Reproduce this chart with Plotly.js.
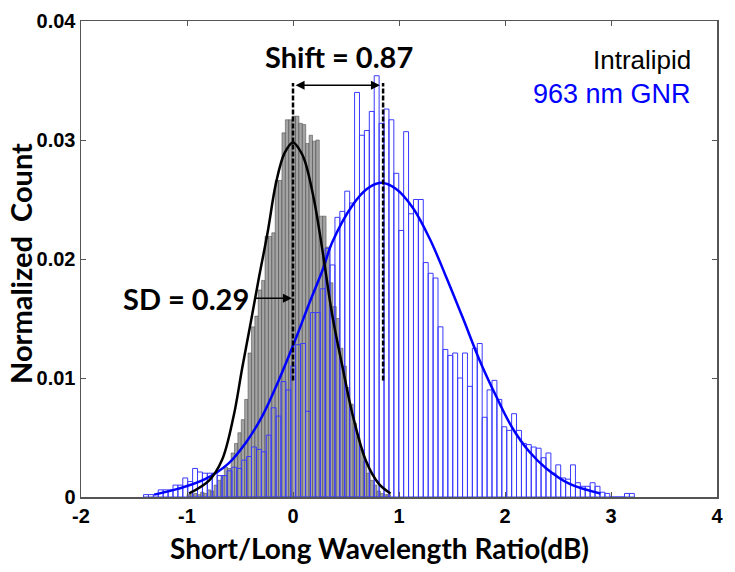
<!DOCTYPE html>
<html>
<head>
<meta charset="utf-8">
<script src="https://cdn.plot.ly/plotly-3.0.1.min.js"></script>
<style>html,body{margin:0;padding:0;background:#fff;}#chart{width:735px;height:572px;}</style>
</head>
<body>
<div id="chart"></div>
<script>
// ---- Data ----
// GNR histogram (100 bins)
const gnrBinStart = -1.41;
const gnrBinWidth = 0.0463;
const gnrCounts = [
 0.0002,0.0002,0.0002,0.0006,0.0006,0.0006,0.0010,0.0010,0.0016,0.0013,
 0.0024,0.0021,0.0020,0.0020,0.0020,0.0018,0.0018,0.0022,0.0025,0.0024,
 0.0031,0.0034,0.0042,0.0040,0.0038,0.0052,0.0075,0.0068,0.0097,0.0090,
 0.0110,0.0128,0.0129,0.0072,0.0155,0.0155,0.0175,0.0209,0.0195,0.0235,
 0.0240,0.0257,0.0247,0.0340,0.0304,0.0308,0.0324,0.0354,0.0314,0.0326,
 0.0317,0.0272,0.0224,0.0307,0.0238,0.0250,0.0250,0.0197,0.0188,0.0184,
 0.0143,0.0124,0.0119,0.0121,0.0100,0.0121,0.0093,0.0125,0.0129,0.0067,
 0.0090,0.0098,0.0082,0.0059,0.0056,0.0070,0.0056,0.0045,0.0044,0.0042,
 0.0041,0.0033,0.0037,0.0020,0.0027,0.0016,0.0015,0.0027,0.0012,0.0009,
 0.0009,0.0012,0.0009,0.0004,0.0003,0,0,0,0.0003,0.0003
];
// Intralipid histogram (60 bins)
const lipidBinStart = -1.0;
const lipidBinWidth = 0.032;
const lipidCounts = [
 0.0002,0.0002,0.0003,0.0002,0.0004,0.0003,0.0006,0.0005,0.0010,0.0014,
 0.0018,0.0025,0.0024,0.0037,0.0045,0.0054,0.0065,0.0082,0.0121,0.0143,
 0.0152,0.0174,0.0182,0.0219,0.0219,0.0222,0.0266,0.0266,0.0306,0.0317,
 0.0317,0.0320,0.0320,0.0314,0.0313,0.0297,0.0304,0.0299,0.0300,0.0236,
 0.0236,0.0210,0.0180,0.0160,0.0150,0.0125,0.0110,0.0092,0.0078,0.0062,
 0.0050,0.0040,0.0030,0.0020,0.0014,0.0010,0.0005,0.0003,0.0002,0.0002
];
// Fitted curves
const gnrFitX = [-1.31,-1.08,-0.83,-0.61,-0.45,-0.29,-0.13,0.03,0.15,0.28,0.37,0.56,0.70,0.83,0.97,1.13,1.29,1.44,1.60,1.76,1.92,2.07,2.23,2.39,2.61,2.90];
const gnrFitY = [0.0002,0.0007,0.0015,0.0028,0.0045,0.0068,0.0099,0.0134,0.0162,0.0191,0.0214,0.0245,0.0259,0.0264,0.0259,0.0243,0.0217,0.0186,0.0151,0.0115,0.0084,0.0058,0.0038,0.0024,0.0011,0.0003];
const lipidFitX = [-0.98,-0.79,-0.67,-0.56,-0.48,-0.40,-0.32,-0.24,-0.16,-0.08,0,0.08,0.12,0.20,0.28,0.37,0.47,0.56,0.69,0.81,0.92];
const lipidFitY = [0.0003,0.0014,0.0031,0.0068,0.0108,0.0146,0.0185,0.0222,0.0264,0.0289,0.0298,0.0289,0.0280,0.0249,0.0206,0.0153,0.0108,0.0070,0.0030,0.0011,0.0003];
// Means (dashed markers) and annotation values
const meanX = [0, 0.85];
const meanLineY = [0.0098, 0.0348];
const shiftArrowY = 0.0346;
const sdArrowY = 0.0167;
const sdArrowStartX = -0.37;
const labels = {shift: 'Shift = 0.87', sd: 'SD = 0.29', lipid: 'Intralipid', gnr: '963 nm GNR',
  xTitle: 'Short/Long Wavelength Ratio(dB)', yTitle: 'Normalized  Count'};
const xTickVals = [-2,-1,0,1,2,3,4];
const xTickText = ['-2','-1','0','1','2','3','4'];
const yTickVals = [0,0.01,0.02,0.03,0.04];
const yTickText = ['0','0.01','0.02','0.03','0.04'];

// ---- Build traces ----
const centers = (start, w, n) => Array.from({length: n}, (_, i) => start + w * (i + 0.5));
const gnrX = centers(gnrBinStart, gnrBinWidth, gnrCounts.length);
const lipidX = centers(lipidBinStart, lipidBinWidth, lipidCounts.length);

const traces = [
  {type: 'bar', x: lipidX, y: lipidCounts, width: lipidBinWidth,
   marker: {color: '#a4a4a4', line: {color: '#3c3c3c', width: 0.5}}, hoverinfo: 'skip'},
  {type: 'bar', x: gnrX, y: gnrCounts, width: gnrBinWidth,
   marker: {color: 'rgba(0,0,0,0)', line: {color: '#3a3aff', width: 1}}, hoverinfo: 'skip'},
  {type: 'scatter', mode: 'lines', x: gnrFitX, y: gnrFitY, line: {color: '#0000ff', width: 2.5, shape: 'spline'}},
  {type: 'scatter', mode: 'lines', x: lipidFitX, y: lipidFitY, line: {color: '#000000', width: 2.5, shape: 'spline'}},
  {type: 'scatter', mode: 'lines', x: [meanX[0], meanX[0]], y: meanLineY, line: {color: '#000', width: 2.5, dash: '5px,2px'}},
  {type: 'scatter', mode: 'lines', x: [meanX[1], meanX[1]], y: meanLineY, line: {color: '#000', width: 2.5, dash: '5px,2px'}}
];

const boldFam = 'Lato, "Open Sans", sans-serif';
const boldFont = {family: boldFam, size: 29, color: '#000', weight: 'bold'};
const tickFont = {family: '"Liberation Sans", Arial, sans-serif', size: 20, color: '#000', weight: 'bold'};

const layout = {
  width: 735, height: 572,
  margin: {l: 81, r: 18, t: 21, b: 75},
  paper_bgcolor: '#fff', plot_bgcolor: '#fff',
  showlegend: false, barmode: 'overlay', bargap: 0,
  xaxis: {range: [-2, 4], tickvals: xTickVals, ticktext: xTickText,
    ticks: 'inside', ticklen: 5, tickcolor: '#555', mirror: 'ticks',
    showline: true, linecolor: '#555', linewidth: 1.5, showgrid: false, zeroline: false,
    tickfont: tickFont},
  yaxis: {range: [0, 0.04], tickvals: yTickVals, ticktext: yTickText,
    ticks: 'inside', ticklen: 5, tickcolor: '#555', mirror: 'ticks',
    showline: true, linecolor: '#555', linewidth: 1.5, showgrid: false, zeroline: false,
    tickfont: tickFont},
  annotations: [
    {x: 0.47, y: -0.107, xref: 'paper', yref: 'paper', xanchor: 'center', yanchor: 'middle',
     text: labels.xTitle, showarrow: false,
     font: {family: boldFam, size: 28, color: '#000', weight: 'bold'}},
    {x: -0.094, y: 0.49, xref: 'paper', yref: 'paper', xanchor: 'center', yanchor: 'middle',
     text: labels.yTitle, showarrow: false, textangle: -90,
     font: {family: boldFam, size: 29, color: '#000', weight: 'bold'}},
    {x: 0.43, y: 0.0370, xref: 'x', yref: 'y', xanchor: 'center', yanchor: 'middle',
     text: labels.shift, showarrow: false, font: boldFont},
    {x: -0.40, y: sdArrowY, xref: 'x', yref: 'y', xanchor: 'right', yanchor: 'middle',
     text: labels.sd, showarrow: false, font: boldFont},
    {x: 3.77, y: 0.0367, xref: 'x', yref: 'y', xanchor: 'right', yanchor: 'middle',
     text: labels.lipid, showarrow: false,
     font: {family: '"Liberation Sans", Arial, sans-serif', size: 26, color: '#000'}},
    {x: 3.77, y: 0.0339, xref: 'x', yref: 'y', xanchor: 'right', yanchor: 'middle',
     text: labels.gnr, showarrow: false,
     font: {family: '"Liberation Sans", Arial, sans-serif', size: 27, color: '#0000ff'}},
    {x: meanX[1] - 0.03, y: shiftArrowY, ax: meanX[0] + 0.01, ay: shiftArrowY, xref: 'x', yref: 'y', axref: 'x', ayref: 'y',
     text: '', showarrow: true, arrowhead: 2, startarrowhead: 2, arrowside: 'end+start', arrowsize: 1.2, arrowwidth: 1.5, arrowcolor: '#000'},
    {x: meanX[0] - 0.01, y: sdArrowY, ax: sdArrowStartX, ay: sdArrowY, xref: 'x', yref: 'y', axref: 'x', ayref: 'y',
     text: '', showarrow: true, arrowhead: 2, arrowsize: 1.2, arrowwidth: 1.5, arrowcolor: '#000'}
  ]
};

Plotly.newPlot('chart', traces, layout, {staticPlot: true, displayModeBar: false});
</script>
</body>
</html>
